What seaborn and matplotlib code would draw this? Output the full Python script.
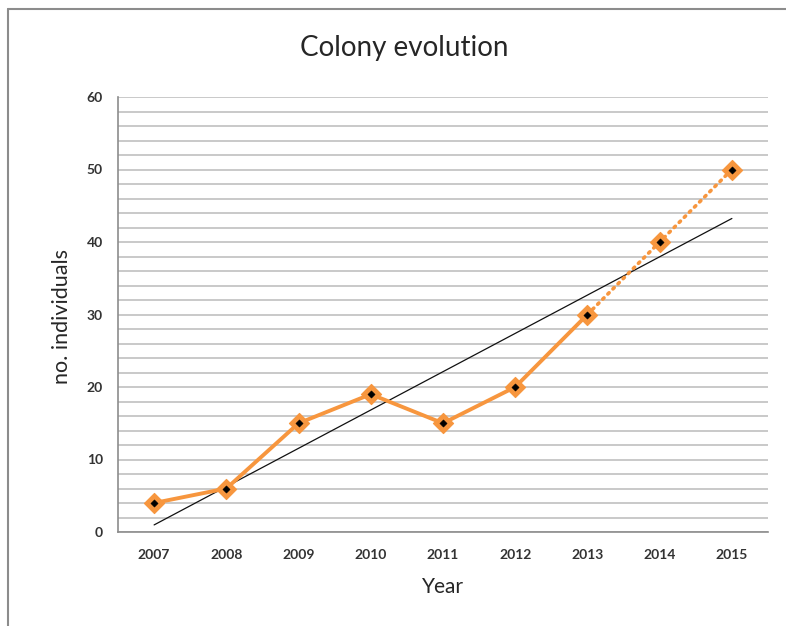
import numpy as np
import pandas as pd
import matplotlib
matplotlib.use('Agg')
import matplotlib.pyplot as plt
import seaborn as sns
from matplotlib.lines import Line2D

years = ['2007', '2008', '2009', '2010', '2011', '2012', '2013', '2014', '2015']
individuals = [4, 6, 15, 19, 15, 20, 30, 40, 50]
n_observed = 7  # 2007-2013 measured, 2014-2015 projected (dotted)

sns.set_style('white')
plt.rcParams['font.family'] = ['Lato', 'DejaVu Sans']

df = pd.DataFrame({'pos': np.arange(len(years)), 'Year': years, 'count': individuals})
observed = df.iloc[:n_observed]
projected = df.iloc[n_observed - 1:]

orange = '#F7963E'

fig = plt.figure(figsize=(7.86, 6.26), dpi=100)
ax = fig.add_axes([118 / 786, 94 / 626, 650 / 786, 435 / 626])

# Chart area border: only the top and left edges are in view
bx, by = 8 / 786, 1 - 9 / 626
fig.add_artist(Line2D([bx, 1.0], [by, by], transform=fig.transFigure,
                      color='#8c8c8c', linewidth=1.5))
fig.add_artist(Line2D([bx, bx], [0.0, by], transform=fig.transFigure,
                      color='#8c8c8c', linewidth=1.5))

# Linear trend over all points
slope, intercept = np.polyfit(df['pos'], df['count'], 1)
df['trend'] = intercept + slope * df['pos']
sns.lineplot(data=df, x='pos', y='trend', color='#111111', linewidth=0.9, ax=ax)

sns.lineplot(data=observed, x='pos', y='count', color=orange, linewidth=2.8, ax=ax)
sns.lineplot(data=projected, x='pos', y='count', color=orange, linewidth=2.6,
             linestyle=(0, (0.5, 1.5)), dash_capstyle='round', ax=ax)
sns.scatterplot(data=df, x='pos', y='count', marker='D', s=105, color=orange,
                edgecolor=orange, zorder=4, ax=ax)
sns.scatterplot(data=df, x='pos', y='count', marker='D', s=14, color='black',
                edgecolor='black', zorder=5, ax=ax)

ax.set_xlim(-0.5, len(years) - 0.5)
ax.set_ylim(0, 60)
ax.set_yticks(range(0, 61, 10))
ax.set_yticks(range(0, 61, 2), minor=True)
ax.set_xticks(df['pos'])
ax.set_xticklabels(years)
ax.set_xticks(np.arange(-0.5, len(years), 1), minor=True)
ax.grid(True, axis='y', which='both', color='#c0c0c0', linewidth=1.2)
ax.set_axisbelow(True)

for side in ['top', 'right']:
    ax.spines[side].set_visible(False)
for side in ['left', 'bottom']:
    ax.spines[side].set_color('#8c8c8c')
    ax.spines[side].set_linewidth(1.2)

ax.tick_params(axis='y', which='major', length=5, color='#8c8c8c', labelsize=10, pad=6)
ax.tick_params(axis='y', which='minor', length=0)
ax.tick_params(axis='x', which='major', length=0, labelsize=10, pad=12)
ax.tick_params(axis='x', which='minor', length=5, color='#8c8c8c')
for lbl in ax.get_xticklabels() + ax.get_yticklabels():
    lbl.set_fontweight('bold')
    lbl.set_color('#333333')

ax.set_xlabel('')
ax.set_ylabel('')
fig.text(404 / 786, 1 - 48 / 626, 'Colony evolution', ha='center', va='center', fontsize=20)
fig.text(443 / 786, 1 - 587 / 626, 'Year', ha='center', va='center', fontsize=15)
fig.text(62 / 786, 1 - 316 / 626, 'no. individuals', ha='center', va='center',
         rotation=90, fontsize=15.5)

fig.savefig('out.png', dpi=100)
